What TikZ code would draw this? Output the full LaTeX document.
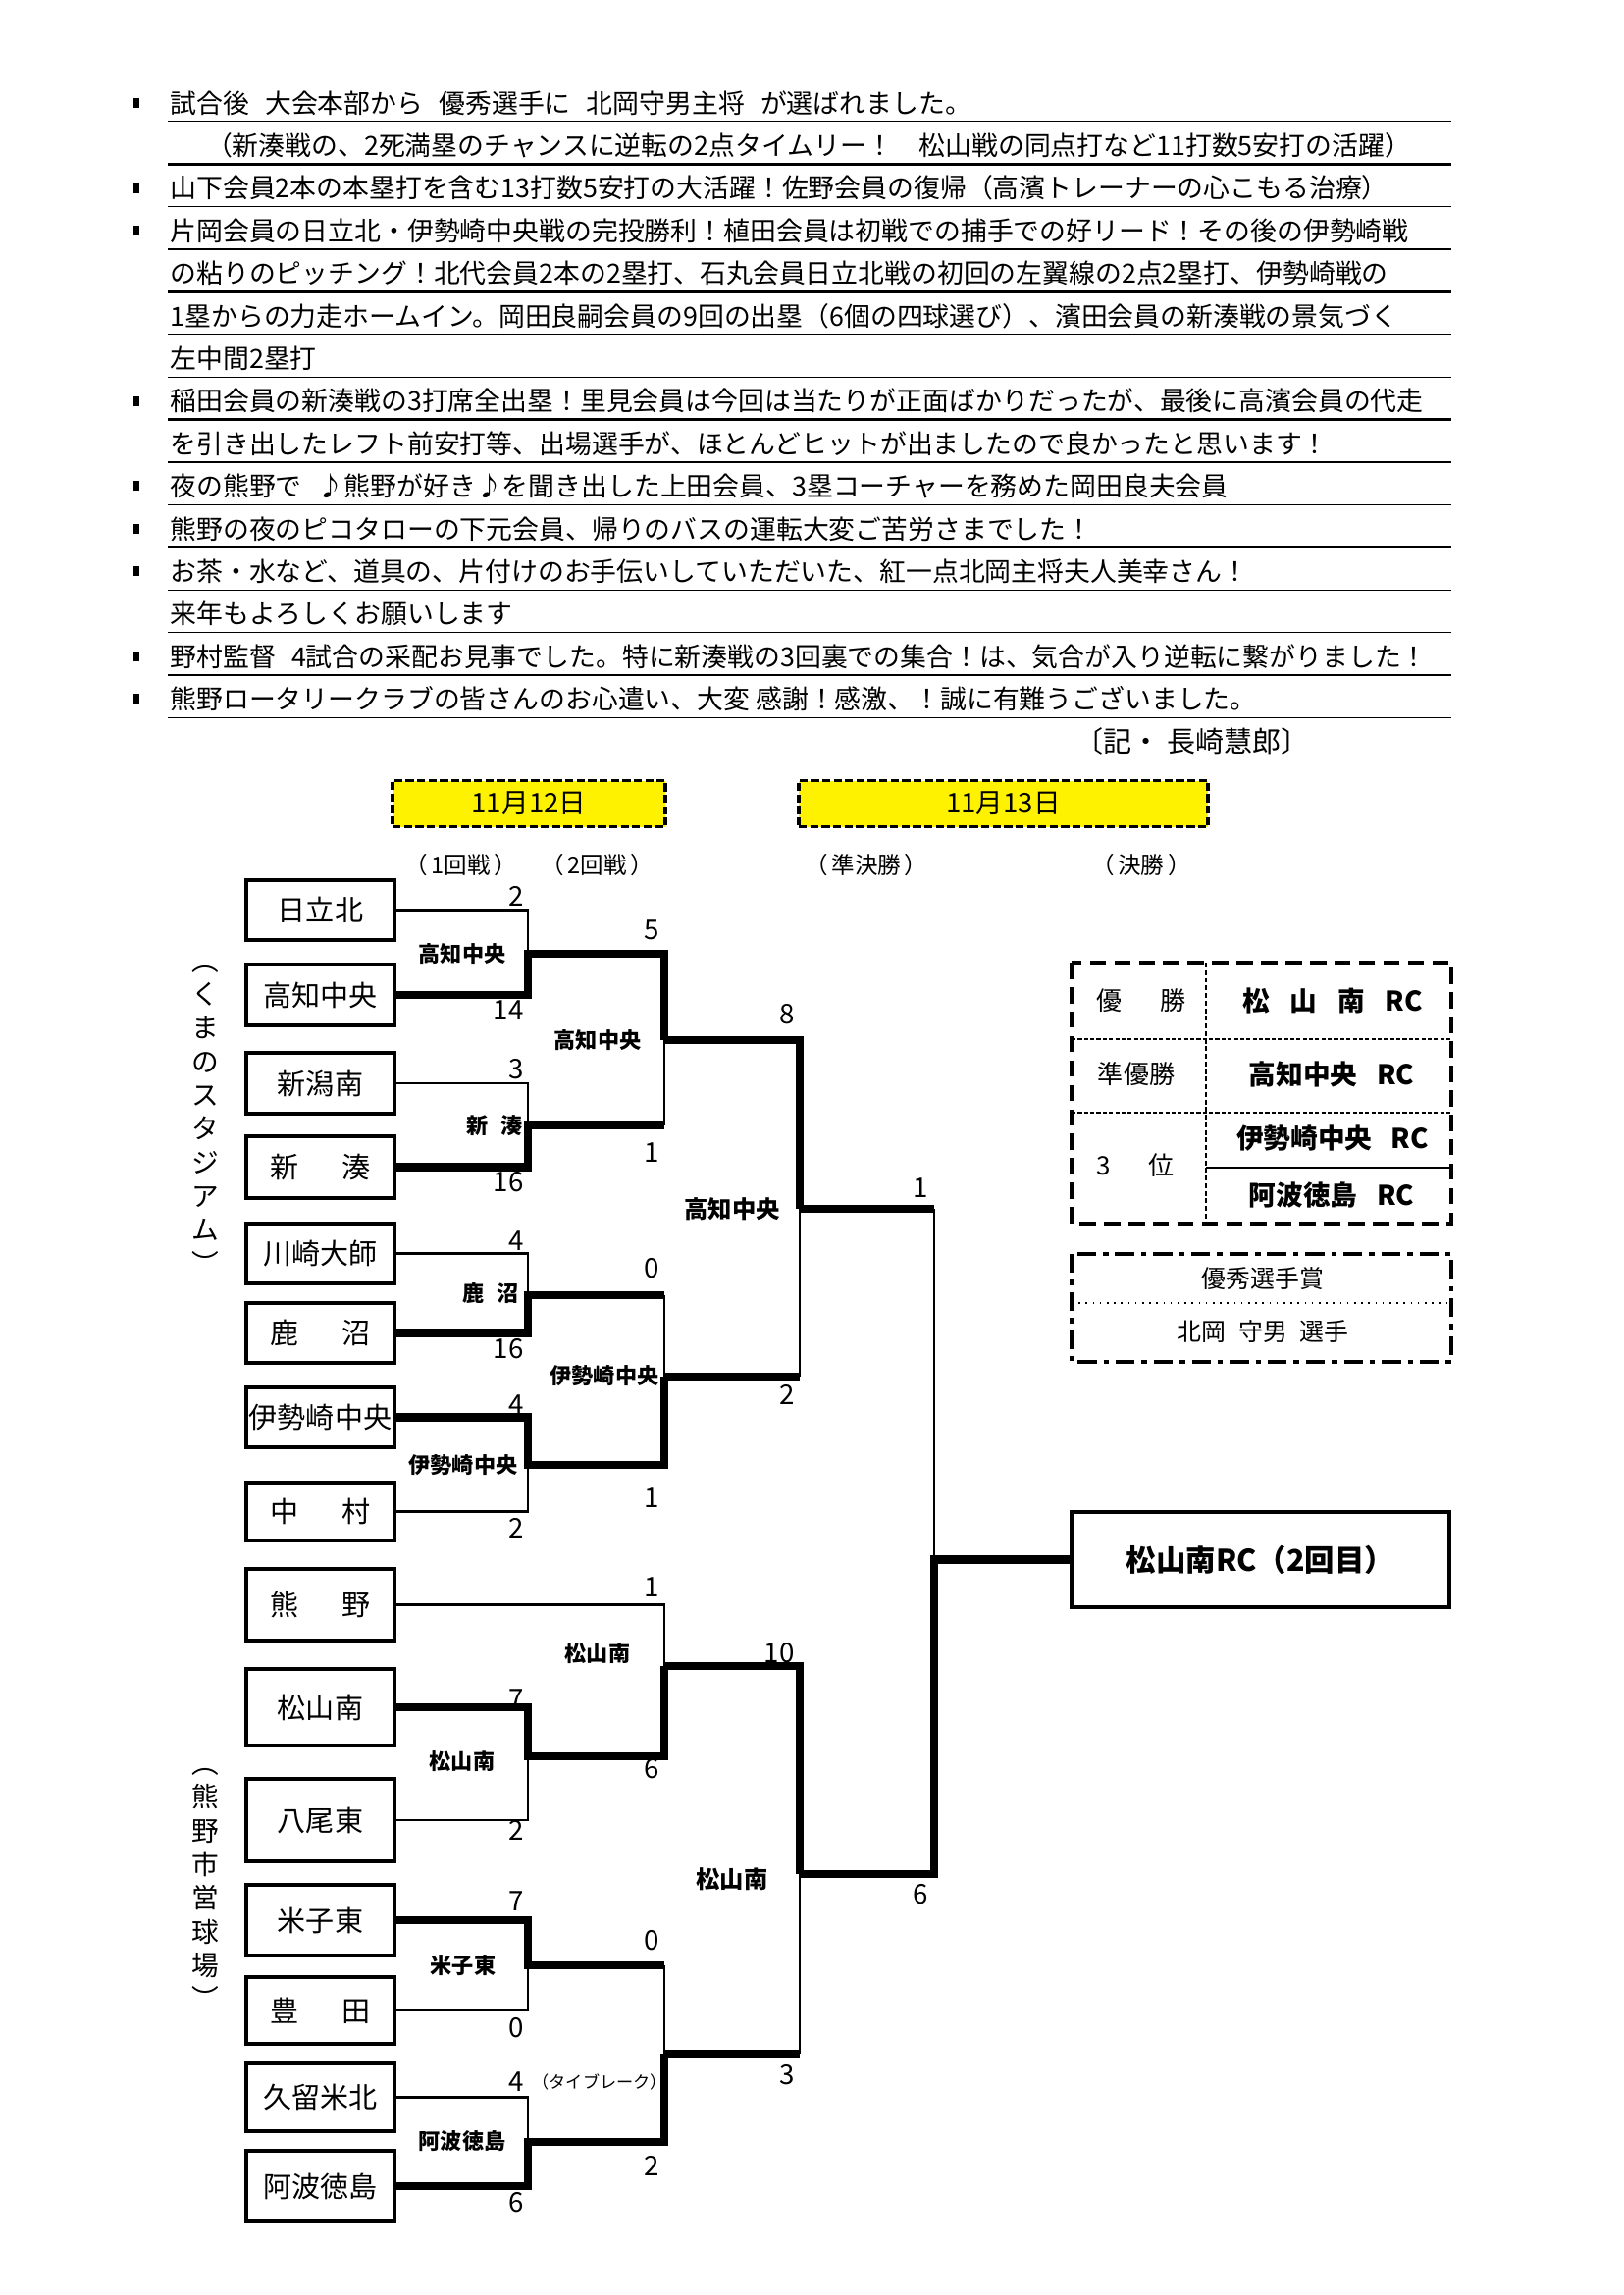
\documentclass[tikz,border=0pt]{standalone}
\usepackage{fontspec}
\setmainfont{Noto Sans CJK JP}
\usetikzlibrary{positioning}
\newdimen\pxu
\pxu=0.36122pt
\newcommand\setfs[1]{\fontsize{#1}{#1}\selectfont}
\newcommand\jgap{\hspace{.6em}}
\newcommand\wgap{\hspace{1.5em}}
\newcommand\pgap{\hspace{.15em}}

\begin{document}
\begin{tikzpicture}[
  x=0.36122pt, y=-0.36122pt,
  body/.style={anchor=west, inner sep=0pt, font=\setfs{9.7}},
  bul/.style={fill, minimum width=6*\pxu, minimum height=10*\pxu, inner sep=0pt},
  rulethin/.style={line width=0.45pt},
  rulethick/.style={line width=1pt},
  team/.style={draw, line width=1.2pt, minimum width=151*\pxu, minimum height=#1*\pxu,
               inner sep=0pt, font=\setfs{10.5}},
  datebox/.style={draw, fill=yellow, line width=1.3pt, dash pattern=on 3pt off 1.2pt,
                  minimum height=47*\pxu, inner sep=0pt, font=\setfs{10}},
  champ/.style={draw, line width=1.7pt, minimum width=385*\pxu, minimum height=97*\pxu,
                inner sep=0pt, font=\bfseries\setfs{11}},
  rndlabel/.style={inner sep=0pt, font=\setfs{8.5}},
  score/.style={anchor=east, inner sep=0pt, font=\setfs{10}},
  winner/.style={inner sep=0pt, font=\bfseries\setfs{8}},
  semiwin/.style={inner sep=0pt, font=\bfseries\setfs{8.8}},
  lose/.style={line width=1pt},
  win/.style={line width=3pt},
  vert/.style={align=center, inner sep=0pt, font=\fontsize{10}{12.4}\selectfont},
  legframe/.style={line width=1.5pt, dash pattern=on 6pt off 3pt},
  legrow/.style={line width=0.8pt, dash pattern=on 1.5pt off 0.8pt},
  legcol/.style={line width=0.6pt, dash pattern=on 1.8pt off 1pt},
  awardframe/.style={line width=1.5pt, dash pattern=on 7pt off 2.5pt on 2pt off 2.5pt},
  place/.style={inner sep=0pt, font=\setfs{9.4}},
  prize/.style={inner sep=0pt, font=\bfseries\setfs{10}},
  award/.style={inner sep=0pt, font=\setfs{9}}
]
\fill[white] (0,0) rectangle (1654,2339);
\useasboundingbox (0,0) rectangle (1654,2339);

\foreach \i in {0,...,14}
  \draw[rulethin] (171,123.8+43.4*\i) -- (1479,123.8+43.4*\i);
\foreach \i in {1,4,7,10,13}
  \draw[rulethick] (171,123.8+43.4*\i) -- (1479,123.8+43.4*\i);

\foreach \i/\y in {1/104.8,3/191.6,4/235.0,8/408.6,10/495.4,11/538.8,12/582.2,14/669.0,15/712.4}
  \node[bul] (b\i) at (139,\y) {};

\node[body] (l1) at (173,104.8) {試合後\jgap 大会本部から\jgap 優秀選手に\jgap 北岡守男主将\jgap が選ばれました。};
\node[body, anchor=center] (l2) at (824,148.2) {（新湊戦の、2死満塁のチャンスに逆転の2点タイムリー！　松山戦の同点打など11打数5安打の活躍）};
\node[body] (l3) at (173,191.6) {山下会員2本の本塁打を含む13打数5安打の大活躍！佐野会員の復帰（高濱トレーナーの心こもる治療）};
\node[body] (l4) at (173,235.0) {片岡会員の日立北・伊勢崎中央戦の完投勝利！植田会員は初戦での捕手での好リード！その後の伊勢崎戦};
\node[body] (l5) at (173,278.4) {の粘りのピッチング！北代会員2本の2塁打、石丸会員日立北戦の初回の左翼線の2点2塁打、伊勢崎戦の};
\node[body] (l6) at (173,321.8) {1塁からの力走ホームイン。岡田良嗣会員の9回の出塁（6個の四球選び）、濱田会員の新湊戦の景気づく};
\node[body] (l7) at (173,365.2) {左中間2塁打};
\node[body] (l8) at (173,408.6) {稲田会員の新湊戦の3打席全出塁！里見会員は今回は当たりが正面ばかりだったが、最後に高濱会員の代走};
\node[body] (l9) at (173,452.0) {を引き出したレフト前安打等、出場選手が、ほとんどヒットが出ましたので良かったと思います！};
\node[body] (l10) at (173,495.4) {夜の熊野で\jgap ♪熊野が好き♪を聞き出した上田会員、3塁コーチャーを務めた岡田良夫会員};
\node[body] (l11) at (173,538.8) {熊野の夜のピコタローの下元会員、帰りのバスの運転大変ご苦労さまでした！};
\node[body] (l12) at (173,582.2) {お茶・水など、道具の、片付けのお手伝いしていただいた、紅一点北岡主将夫人美幸さん！};
\node[body] (l13) at (173,625.6) {来年もよろしくお願いします};
\node[body] (l14) at (173,669.0) {野村監督\jgap 4試合の采配お見事でした。特に新湊戦の3回裏での集合！は、気合が入り逆転に繋がりました！};
\node[body] (l15) at (173,712.4) {熊野ロータリークラブの皆さんのお心遣い、大変 感謝！感激、！誠に有難うございました。};
\node[body, anchor=center, font=\setfs{10.5}] (l16) at (1215,755.8) {〔記・ 長崎慧郎〕};

\node[datebox, minimum width=278*\pxu] (d1) at (539,819) {11月12日};
\node[datebox, minimum width=417*\pxu] (d2) at (1022.5,819) {11月13日};
\node[rndlabel] (n1) at (470,882) {（\pgap 1回戦\pgap）};
\node[rndlabel] (n2) at (609,882) {（\pgap 2回戦\pgap）};
\node[rndlabel] (n3) at (883,882) {（\pgap 準決勝\pgap）};
\node[rndlabel] (n4) at (1163,882) {（\pgap 決勝\pgap）};

\node[vert] (v1) at (209,1141) {︵\\く\\ま\\の\\ス\\タ\\ジ\\ア\\ム\\︶};
\node[vert] (v2) at (209,1925) {︵\\熊\\野\\市\\営\\球\\場\\︶};

\node[team=61] (t1) at (326.5,927.5) {日立北};
\node[team=62] (t2) at (326.5,1014) {高知中央};
\node[team=62] (t3) at (326.5,1104) {新潟南};
\node[team=63] (t4) at (326.5,1189.5) {新\wgap 湊};
\node[team=61] (t5) at (326.5,1277.5) {川崎大師};
\node[team=61] (t6) at (326.5,1358.5) {鹿\wgap 沼};
\node[team=61] (t7) at (326.5,1444.5) {伊勢崎中央};
\node[team=59] (t8) at (326.5,1540.5) {中\wgap 村};
\node[team=73] (t9) at (326.5,1635.5) {熊\wgap 野};
\node[team=78] (t10) at (326.5,1740) {松山南};
\node[team=84] (t11) at (326.5,1855) {八尾東};
\node[team=72] (t12) at (326.5,1957) {米子東};
\node[team=68] (t13) at (326.5,2049) {豊\wgap 田};
\node[team=69] (t14) at (326.5,2137.5) {久留米北};
\node[team=72] (t15) at (326.5,2228) {阿波徳島};
\node[champ] (champ) at (1284.5,1589.5) {松山南RC（2回目）};

\coordinate (m1) at (538,972);
\coordinate (m2) at (538,1147);
\coordinate (m3) at (538,1320);
\coordinate (m4) at (538,1493);
\coordinate (m5) at (538,1790);
\coordinate (m6) at (538,2003);
\coordinate (m7) at (538,2183);
\coordinate (r1) at (677,1060);
\coordinate (r2) at (677,1403);
\coordinate (r3) at (677,1698);
\coordinate (r4) at (677,2093);
\coordinate (s1) at (815,1232);
\coordinate (s2) at (815,1910);
\coordinate (f) at (952,1589.5);

\draw[lose] (t1.east) -| (m1);
\draw[win] (t2.east) -| (m1) -| (r1);
\draw[lose] (t3.east) -| (m2);
\draw[win] (t4.east) -| (m2) -- (m2 -| r1);
\draw[lose] (m2 -| r1) -- (r1);
\draw[lose] (t5.east) -| (m3);
\draw[win] (t6.east) -| (m3) -- (m3 -| r2);
\draw[lose] (m3 -| r2) -- (r2);
\draw[win] (t7.east) -| (m4) -| (r2);
\draw[lose] (t8.east) -| (m4);
\draw[lose] (t9.east) -| (r3);
\draw[win] (t10.east) -| (m5) -| (r3);
\draw[lose] (t11.east) -| (m5);
\draw[win] (t12.east) -| (m6) -- (m6 -| r4);
\draw[lose] (m6 -| r4) -- (r4);
\draw[lose] (t13.east) -| (m6);
\draw[lose] (t14.east) -| (m7);
\draw[win] (t15.east) -| (m7) -| (r4);
\draw[win] (r1) -| (s1);
\draw[win] (r2) -- (r2 -| s1);
\draw[lose] (r2 -| s1) -- (s1);
\draw[win] (r3) -| (s2);
\draw[win] (r4) -- (r4 -| s2);
\draw[lose] (r4 -| s2) -- (s2);
\draw[win] (s1) -- (s1 -| f);
\draw[lose] (s1 -| f) -- (f);
\draw[win] (s2) -| (f) -- (champ.west);

\node[winner] (w1) at (471,972) {高知中央};
\node[winner] (w2) at (504,1147) {新\hspace{.6em}湊};
\node[winner] (w3) at (500,1318) {鹿\hspace{.6em}沼};
\node[winner] (w4) at (472,1493) {伊勢崎中央};
\node[winner] (w5) at (471,1795) {松山南};
\node[winner] (w6) at (472,2003) {米子東};
\node[winner] (w7) at (471,2182) {阿波徳島};
\node[winner] (w8) at (609,1060) {高知中央};
\node[winner] (w9) at (616,1402) {伊勢崎中央};
\node[winner] (w10) at (609,1685) {松山南};
\node[semiwin] (w11) at (746,1232) {高知中央};
\node[semiwin] (w12) at (746,1915) {松山南};

\foreach \x/\y/\s [count=\k] in {534/913/2, 534/1030/14, 534/1090/3, 534/1205/16,
    534/1265/4, 534/1375/16, 534/1432/4, 534/1557/2, 534/1732/7, 534/1865/2,
    534/1938/7, 534/2067/0, 534/2122/4, 534/2245/6,
    672/948/5, 672/1175/1, 672/1293/0, 672/1527/1, 672/1618/1, 672/1803/6,
    672/1978/0, 672/2207/2,
    810/1034/8, 810/1421/2, 810/1685/10, 810/2115/3,
    946/1211/1, 946/1931/6}
  \node[score] (sc\k) at (\x,\y) {\s};
\node[anchor=west, inner sep=0pt, font=\setfs{6.2}] (tb) at (542,2122) {（タイブレーク）};

\draw[legframe] (1092,981) rectangle (1479,1247);
\draw[legrow] (1092,1059) -- (1479,1059);
\draw[legrow] (1092,1134) -- (1479,1134);
\draw[legcol] (1229,981) -- (1229,1247);
\draw[line width=0.6pt] (1229,1190) -- (1479,1190);
\node[place] (p1) at (1163,1020) {優\wgap 勝};
\node[place] (p2) at (1158,1095) {準優勝};
\node[place] (p3) at (1157,1188) {3\wgap 位};
\node[prize] (q1) at (1358,1020) {松\hspace{.75em}山\hspace{.75em}南\hspace{.75em}RC};
\node[prize] (q2) at (1357,1095) {高知中央\hspace{.7em}RC};
\node[prize] (q3) at (1358,1160) {伊勢崎中央\hspace{.7em}RC};
\node[prize] (q4) at (1357,1218) {阿波徳島\hspace{.7em}RC};

\draw[awardframe] (1092,1278) rectangle (1479,1388);
\draw[dotted, line width=0.6pt] (1092,1328) -- (1479,1328);
\node[award] (a1) at (1287,1303) {優秀選手賞};
\node[award] (a2) at (1287,1357) {北岡\hspace{.5em}守男\hspace{.5em}選手};
\end{tikzpicture}
\end{document}
